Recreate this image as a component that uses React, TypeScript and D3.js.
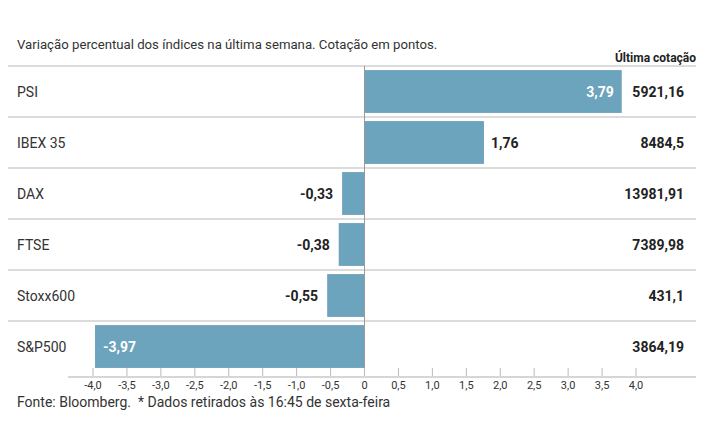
import { useMemo } from 'react';
import * as d3 from 'd3';

const indices = ['PSI', 'IBEX 35', 'DAX', 'FTSE', 'Stoxx600', 'S&P500'];
const variation = [3.79, 1.76, -0.33, -0.38, -0.55, -3.97];
const lastQuote = ['5921,16', '8484,5', '13981,91', '7389,98', '431,1', '3864,19'];
const ticks = [-4, -3.5, -3, -2.5, -2, -1.5, -1, -0.5, 0, 0.5, 1, 1.5, 2, 2.5, 3, 3.5, 4];

const FONT = 'Roboto, "Noto Sans", sans-serif';
const BAR = '#6ca3bd';
const W = 715;
const H = 445;

const fmt = (v: number) => (v === 0 ? '0' : d3.format('.1f')(v).replace('.', ',').replace('−', '-'));
const fmt2 = (v: number) => d3.format('.2f')(v).replace('.', ',').replace('−', '-');

export default function App() {
  const x = useMemo(() => d3.scaleLinear().domain([-4, 4]).range([93, 636]), []);
  const y = useMemo(
    () => d3.scaleBand().domain(indices).range([66, 372]).paddingInner(0.16).paddingOuter(0.08),
    []
  );

  return (
    <svg width={W} height={H} style={{ position: 'absolute', left: 0, top: 0, fontFamily: FONT }}>
      <rect width={W} height={H} fill="#fff" />
      <text x={17} y={49} fontSize={13.2} fill="#333">
        Variação percentual dos índices na última semana. Cotação em pontos.
      </text>
      <text x={696} y={62} fontSize={12} fontWeight="bold" fill="#222" textAnchor="end">
        Última cotação
      </text>

      {indices.map((name, i) => (
        <line key={'sep' + i} x1={8} x2={696} y1={66 + i * 51} y2={66 + i * 51} stroke="#d0d0d0" strokeWidth={1.3} />
      ))}

      {indices.map((name, i) => {
        const v = variation[i];
        const by = y(name) ?? 0;
        const bh = y.bandwidth();
        const x0 = x(Math.min(0, v));
        const x1 = x(Math.max(0, v));
        const cy = by + bh / 2 + 1;
        const inside = x1 - x0 > 150;
        let lx: number;
        let anchor: 'start' | 'end';
        if (v >= 0) {
          lx = inside ? x1 - 8 : x1 + 7;
          anchor = inside ? 'end' : 'start';
        } else {
          lx = inside ? x0 + 8 : x0 - 9;
          anchor = inside ? 'start' : 'end';
        }
        return (
          <g key={name}>
            <text x={17} y={cy} dy="0.35em" fontSize={14} fill="#333">
              {name}
            </text>
            <rect x={x0} y={by} width={x1 - x0} height={bh} fill={BAR} />
            <text
              x={lx}
              y={cy}
              dy="0.35em"
              fontSize={14}
              fontWeight="bold"
              textAnchor={anchor}
              fill={inside ? '#fff' : '#222'}
            >
              {fmt2(v)}
            </text>
            <text x={684} y={cy} dy="0.35em" fontSize={14} fontWeight="bold" textAnchor="end" fill="#222">
              {lastQuote[i]}
            </text>
          </g>
        );
      })}

      <line x1={x(0)} x2={x(0)} y1={66} y2={376} stroke="#999" strokeWidth={1} />

      <line x1={68} x2={696} y1={377} y2={377} stroke="#c8c8c8" strokeWidth={1.3} />
      {ticks.map((t) => (
        <g key={t}>
          <line x1={x(t)} x2={x(t)} y1={368} y2={376} stroke="#bbb" strokeWidth={1} />
          <text x={x(t)} y={389} fontSize={11} textAnchor="middle" fill="#333">
            {fmt(t)}
          </text>
        </g>
      ))}

      <text x={17} y={407} fontSize={14} fill="#333" style={{ whiteSpace: 'pre' }}>
        {'Fonte: Bloomberg.  * Dados retirados às 16:45 de sexta-feira'}
      </text>
    </svg>
  );
}
